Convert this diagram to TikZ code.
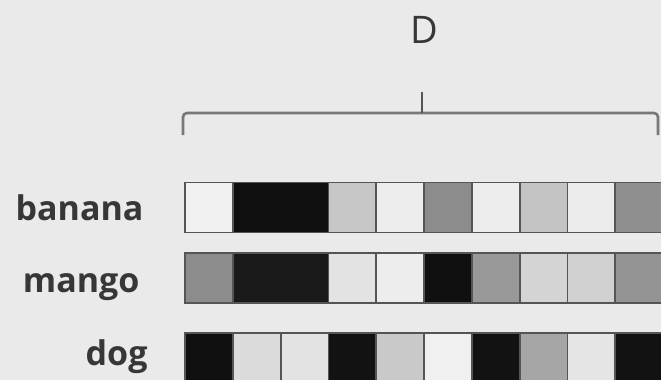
\documentclass[tikz,border=0pt]{standalone}
\usepackage{fontspec}
\setmainfont{Open Sans}
\definecolor{bgc}{RGB}{234,234,234}
\definecolor{cellborder}{RGB}{85,85,85}
\definecolor{labelc}{RGB}{55,55,55}
\definecolor{bracketc}{RGB}{120,120,120}
\begin{document}
\begin{tikzpicture}[x=1pt,y=-1pt,
  cell/.style={draw=cellborder, line width=1.8pt, inner sep=0pt, minimum height=50pt},
  lbl/.style={font=\fontsize{34}{40}\selectfont\bfseries, text=labelc, anchor=base east},
  bracket/.style={draw=bracketc, line width=2.6pt, rounded corners=4pt}]
\fill[bgc] (0,0) rectangle (661,380);
\useasboundingbox (0,0) rectangle (661,380);

% D label and bracket
\node[font=\fontsize{38}{44}\selectfont, text=labelc, inner sep=0pt] (D) at (424,30) {D};
\coordinate (bl) at (183,135);
\coordinate (br) at (658,135);
\coordinate (bm) at (422,113);
\coordinate (bt) at (422,92);
\draw[bracket] (bl) -- (183,113) -- (658,113) -- (br);
\draw[draw=bracketc!70!black, line width=2.6pt] (bm) -- (bt);

% row labels
\node[lbl] (lbanana) at (147,220) {banana};
\node[lbl] (lmango) at (143,292) {mango};
\node[lbl] (ldog) at (151,365) {dog};

% cells: start index / span / fill
\def\cw{47.8}
\foreach \s/\n/\c [count=\i] in {0/1/black!6, 1/2/black!94, 3/1/black!22, 4/1/black!7, 5/1/black!45, 6/1/black!7, 7/1/black!23, 8/1/black!8, 9/1/black!44}
  \node[cell, fill=\c, minimum width=\n*\cw pt] (b\i) at ({185+\cw*(\s+\n/2)},207.5) {};
\foreach \s/\n/\c [count=\i] in {0/1/black!45, 1/2/black!90, 3/1/black!11, 4/1/black!7, 5/1/black!94, 6/1/black!40, 7/1/black!17, 8/1/black!18, 9/1/black!42}
  \node[cell, fill=\c, minimum width=\n*\cw pt] (m\i) at ({185+\cw*(\s+\n/2)},278) {};
\foreach \s/\n/\c [count=\i] in {0/1/black!94, 1/1/black!14, 2/1/black!11, 3/1/black!93, 4/1/black!21, 5/1/black!6, 6/1/black!93, 7/1/black!35, 8/1/black!10, 9/1/black!93}
  \node[cell, fill=\c, minimum width=\n*\cw pt] (d\i) at ({185+\cw*(\s+\n/2)},358) {};
\end{tikzpicture}
\end{document}
